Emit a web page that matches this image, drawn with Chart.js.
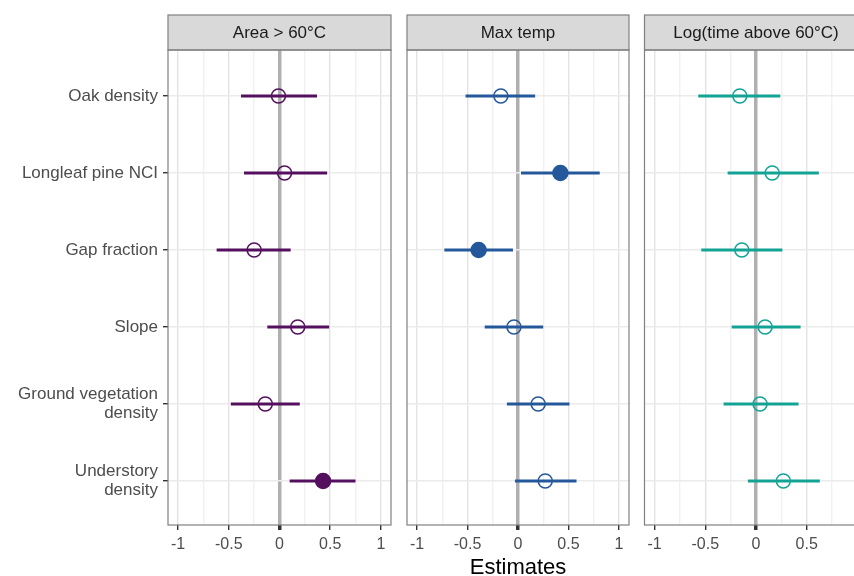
<!DOCTYPE html>
<html>
<head>
<meta charset="utf-8">
<script src="https://cdn.jsdelivr.net/npm/chart.js@4.4.1/dist/chart.umd.min.js"></script>
<style>
  html, body { margin: 0; padding: 0; background: #fff; overflow: hidden; width: 854px; height: 576px; }
  canvas { position: absolute; top: 0; }
</style>
</head>
<body>
<canvas id="c1" width="400" height="576" style="left:0px"></canvas>
<canvas id="c2" width="240" height="576" style="left:398px"></canvas>
<canvas id="c3" width="240" height="576" style="left:636px"></canvas>
<script>
// predictors, top to bottom
const predictors = ['Oak density', 'Longleaf pine NCI', 'Gap fraction', 'Slope', ['Ground vegetation', 'density'], ['Understory', 'density']];
const xTicks = [-1, -0.75, -0.5, -0.25, 0, 0.25, 0.5, 0.75, 1];

// Area > 60°C
const areaEst = [-0.01, 0.05, -0.25, 0.18, -0.14, 0.43];
const areaLow = [-0.38, -0.35, -0.62, -0.12, -0.48, 0.10];
const areaHigh = [0.37, 0.47, 0.11, 0.49, 0.20, 0.75];
const areaSig = [false, false, false, false, false, true];

// Max temp
const maxEst = [-0.17, 0.42, -0.39, -0.04, 0.20, 0.27];
const maxLow = [-0.52, 0.03, -0.73, -0.33, -0.11, -0.03];
const maxHigh = [0.17, 0.81, -0.05, 0.25, 0.51, 0.58];
const maxSig = [false, true, true, false, false, false];

// Log(time above 60°C)
const timeEst = [-0.16, 0.16, -0.14, 0.09, 0.04, 0.27];
const timeLow = [-0.57, -0.28, -0.54, -0.24, -0.32, -0.08];
const timeHigh = [0.24, 0.62, 0.26, 0.44, 0.42, 0.63];
const timeSig = [false, false, false, false, false, false];

const FONT = '"Liberation Sans", Arial, sans-serif';

// strip on top + panel border
const facetPlugin = {
  id: 'facet',
  afterDraw(chart, args, o) {
    const { ctx, chartArea: a } = chart;
    const top = 15;
    ctx.save();
    ctx.fillStyle = '#d9d9d9';
    ctx.fillRect(a.left, top, a.right - a.left, a.top - top);
    ctx.strokeStyle = '#808080';
    ctx.lineWidth = 1.2;
    ctx.strokeRect(a.left, top, a.right - a.left, a.top - top);
    ctx.strokeRect(a.left, a.top, a.right - a.left, a.bottom - a.top);
    ctx.fillStyle = '#1a1a1a';
    ctx.font = '17px ' + FONT;
    ctx.textAlign = 'center';
    ctx.textBaseline = 'middle';
    ctx.fillText(o.title, (a.left + a.right) / 2, (top + a.top) / 2 + 1);
    ctx.restore();
  }
};

function isMajor(v) {
  return Math.abs(v * 2 - Math.round(v * 2)) < 1e-9;
}

function makePanel(id, o) {
  const rows = predictors.map((_, i) => i);

  const ciSets = rows.map(i => ({
    data: [{ x: o.low[i], y: i }, { x: o.high[i], y: i }],
    showLine: true,
    borderColor: o.color,
    borderWidth: 3,
    pointRadius: 0,
    order: 1,
  }));

  const pointSet = {
    data: rows.map(i => ({ x: o.est[i], y: i })),
    pointRadius: rows.map(i => o.sig[i] ? 7.5 : 7),
    pointBorderWidth: 1.5,
    pointBorderColor: o.color,
    pointBackgroundColor: rows.map(i => o.sig[i] ? o.color : 'rgba(0,0,0,0)'),
    order: 0,
  };

  return new Chart(document.getElementById(id), {
    type: 'scatter',
    data: { datasets: [pointSet, ...ciSets] },
    plugins: [facetPlugin],
    options: {
      responsive: false,
      animation: false,
      events: [],
      layout: { padding: { top: 50, left: o.padLeft, right: o.padRight, bottom: 0 } },
      plugins: {
        legend: { display: false },
        tooltip: { enabled: false },
        facet: { title: o.title },
      },
      scales: {
        x: {
          type: 'linear',
          min: -1.1,
          max: 1.1,
          afterBuildTicks: s => { s.ticks = xTicks.map(v => ({ value: v })); },
          afterFit: s => { s.height = 51; },
          border: { display: false },
          grid: {
            color: c => c.tick.value === 0 ? '#b0b0b0' : (isMajor(c.tick.value) ? '#e3e3e3' : '#f1f1f1'),
            lineWidth: c => c.tick.value === 0 ? 3.5 : 1.4,
            tickColor: c => isMajor(c.tick.value) ? '#333333' : 'rgba(0,0,0,0)',
            tickLength: 5,
          },
          ticks: {
            autoSkip: false,
            maxRotation: 0,
            padding: 5,
            color: '#4d4d4d',
            font: { family: FONT, size: 16 },
            callback: v => isMajor(v) ? String(v) : '',
          },
          title: {
            display: !!o.xTitle,
            text: o.xTitle || '',
            color: '#000000',
            font: { family: FONT, size: 22, lineHeight: 1 },
            padding: { top: 0, bottom: -3 },
          },
        },
        y: {
          type: 'linear',
          min: -0.597,
          max: 5.571,
          reverse: true,
          afterBuildTicks: s => { s.ticks = rows.map(v => ({ value: v })); },
          afterFit: s => { s.width = o.yWidth; },
          border: { display: false },
          grid: {
            color: '#ebebeb',
            lineWidth: 1.4,
            drawTicks: o.yLabels,
            tickColor: '#333333',
            tickLength: 5,
          },
          ticks: {
            display: o.yLabels,
            autoSkip: false,
            padding: 5,
            color: '#4d4d4d',
            font: { family: FONT, size: 17, lineHeight: 1.15 },
            callback: v => predictors[v],
          },
        },
      },
    },
  });
}

makePanel('c1', {
  title: 'Area > 60°C', color: '#54105e',
  est: areaEst, low: areaLow, high: areaHigh, sig: areaSig,
  yLabels: true, yWidth: 168, padLeft: 0, padRight: 8,
});

makePanel('c2', {
  title: 'Max temp', color: '#25589a',
  est: maxEst, low: maxLow, high: maxHigh, sig: maxSig,
  yLabels: false, yWidth: 0, padLeft: 5, padRight: 9, xTitle: 'Estimates',
});

makePanel('c3', {
  title: 'Log(time above 60°C)', color: '#13a395',
  est: timeEst, low: timeLow, high: timeHigh, sig: timeSig,
  yLabels: false, yWidth: 0, padLeft: 8, padRight: 8,
});
</script>
</body>
</html>
